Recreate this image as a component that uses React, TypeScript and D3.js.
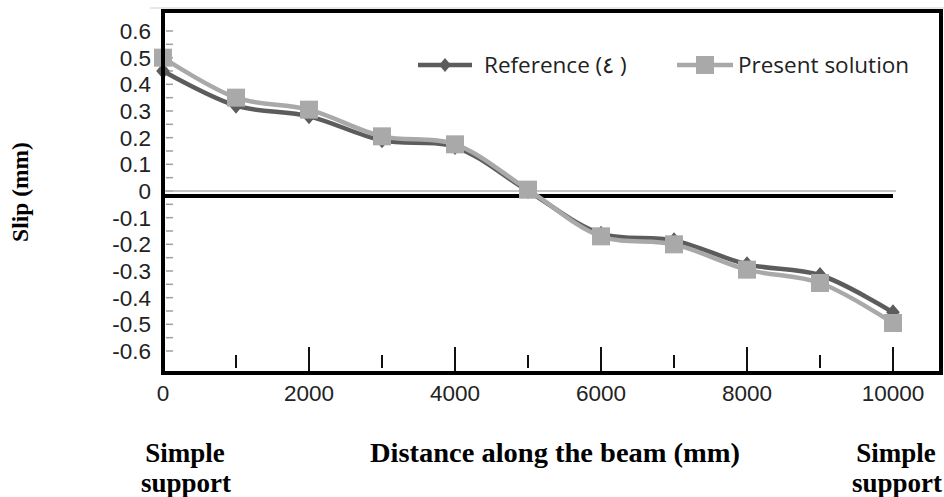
import React from "react";
import * as d3 from "d3";

const distances = [0, 1000, 2000, 3000, 4000, 5000, 6000, 7000, 8000, 9000, 10000];
const referenceSlip = [0.45, 0.32, 0.28, 0.19, 0.165, 0.0, -0.16, -0.185, -0.275, -0.315, -0.455];
const presentSlip = [0.5, 0.35, 0.305, 0.205, 0.175, 0.005, -0.17, -0.2, -0.295, -0.345, -0.495];
const xTickLabels = [0, 2000, 4000, 6000, 8000, 10000];
const yTickLabels = ["0.6", "0.5", "0.4", "0.3", "0.2", "0.1", "0", "-0.1", "-0.2", "-0.3", "-0.4", "-0.5", "-0.6"];
const seriesNames = ["Reference (\u0664 )", "Present solution"];

const W = 944;
const H = 497;
const left = 163, right = 941, top = 11, bottom = 373;

export default function App() {
  const x = d3.scaleLinear().domain([0, 10000]).range([163, 893]);
  const y = d3.scaleLinear().domain([-0.6, 0.6]).range([351, 31]);

  const line = d3
    .line<number>()
    .x((_, i) => x(distances[i]))
    .y((d) => y(d))
    .curve(d3.curveCatmullRom.alpha(0.5));

  const minorY = d3.range(-12, 13).map((k) => k * 0.05);
  const xTicksAll = d3.range(1, 11).map((k) => k * 1000);

  const sans = "'Open Sans', 'Noto Sans', sans-serif";
  const tickFont = "'Liberation Sans', Arial, sans-serif";
  const serif = "'Liberation Serif', 'Times New Roman', serif";
  const dark = "#5c5c5c";
  const light = "#a9a9a9";

  const diamond = (cx: number, cy: number, r = 8) =>
    `M${cx},${cy - r}L${cx + r * 0.85},${cy}L${cx},${cy + r}L${cx - r * 0.85},${cy}Z`;

  const title = { fontFamily: serif, fontWeight: "bold" as const, fontSize: 27, fill: "#000", textAnchor: "middle" as const };

  return (
    <svg width={W} height={H} style={{ position: "absolute", left: 0, top: 0, background: "#fff" }}>
      <line x1={150} x2={944} y1={8} y2={8} stroke="#d0d0d0" strokeWidth={1} />
      {minorY.map((v, i) => (
        <line key={"yt" + i} x1={166} x2={173} y1={y(v)} y2={y(v)} stroke="#a0a0a0" strokeWidth={1.5} />
      ))}
      {yTickLabels.map((s) => (
        <text key={"yl" + s} x={151} y={y(+s)} dy="0.36em" textAnchor="end" fontFamily={tickFont} fontSize={22.5} fill="#222">
          {s}
        </text>
      ))}
      {xTicksAll.map((v) => {
        const major = v % 2000 === 0;
        return (
          <line
            key={"xt" + v}
            x1={x(v)}
            x2={x(v)}
            y1={major ? 347 : 355}
            y2={major ? 372 : 368}
            stroke="#111"
            strokeWidth={2}
          />
        );
      })}
      {xTickLabels.map((v) => (
        <text key={"xl" + v} x={x(v)} y={393} dy="0.36em" textAnchor="middle" fontFamily={tickFont} fontSize={22.5} fill="#222">
          {v}
        </text>
      ))}
      <line x1={163} x2={896} y1={y(0)} y2={y(0)} stroke="#b0b0b0" strokeWidth={1.5} />
      <line x1={163} x2={893} y1={y(0) + 5} y2={y(0) + 5} stroke="#000" strokeWidth={4} />
      <path d={line(referenceSlip) || ""} fill="none" stroke={dark} strokeWidth={4.5} />
      {referenceSlip.map((v, i) => (
        <path key={"d" + i} d={diamond(x(distances[i]), y(v))} fill={dark} />
      ))}
      <path d={line(presentSlip) || ""} fill="none" stroke={light} strokeWidth={4.5} />
      {presentSlip.map((v, i) => (
        <rect key={"s" + i} x={x(distances[i]) - 9} y={y(v) - 9} width={18} height={18} fill={light} />
      ))}
      <rect x={left} y={top} width={right - left} height={bottom - top} fill="none" stroke="#000" strokeWidth={4} />
      <line x1={418} x2={472} y1={65} y2={65} stroke={dark} strokeWidth={4.5} />
      <path d={diamond(445, 65, 7)} fill={dark} />
      <text x={484} y={65} dy="0.36em" fontFamily={sans} fontSize={22.5} fill="#222">
        {seriesNames[0]}
      </text>
      <line x1={677} x2={733} y1={65} y2={65} stroke={light} strokeWidth={4.5} />
      <rect x={696} y={56} width={18} height={18} fill={light} />
      <text x={738} y={65} dy="0.36em" fontFamily={sans} fontSize={22.5} fill="#222">
        {seriesNames[1]}
      </text>
      <text transform="translate(28,192) rotate(-90)" {...title} fontSize={23.5}>
        Slip (mm)
      </text>
      <text x={555} y={462} {...title} textLength={370} lengthAdjust="spacingAndGlyphs">
        Distance along the beam (mm)
      </text>
      <text x={185} y={462} {...title}>Simple</text>
      <text x={186} y={492} {...title}>support</text>
      <text x={896} y={462} {...title}>Simple</text>
      <text x={897} y={492} {...title}>support</text>
    </svg>
  );
}
